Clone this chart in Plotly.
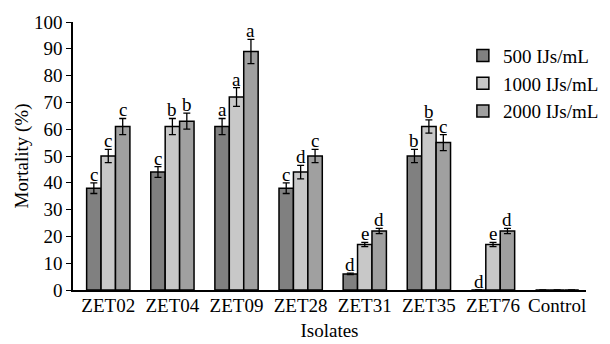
import plotly.graph_objects as go

# Mortality (%) of larvae per isolate at three nematode concentrations
isolates = ["ZET02", "ZET04", "ZET09", "ZET28", "ZET31", "ZET35", "ZET76", "Control"]
series_names = ["500 IJs/mL", "1000 IJs/mL", "2000 IJs/mL"]

mort_500 = [38, 44, 61, 38, 6, 50, 0, 0]
mort_1000 = [50, 61, 72, 44, 17, 61, 17, 0]
mort_2000 = [61, 63, 89, 50, 22, 55, 22, 0]

err_500 = [2, 2, 3, 2, 0.3, 2.5, 0, 0]
err_1000 = [2.5, 3, 3.5, 2.5, 0.8, 2.5, 0.8, 0]
err_2000 = [3, 3, 4.5, 2.5, 1, 3, 1, 0]

letters_500 = ["c", "c", "a", "c", "d", "b", "d", ""]
letters_1000 = ["c", "b", "a", "d", "e", "b", "e", ""]
letters_2000 = ["c", "b", "a", "c", "d", "c", "d", ""]

y_ticks = [0, 10, 20, 30, 40, 50, 60, 70, 80, 90, 100]

colors = ["#808080", "#c8c8c8", "#a0a0a0"]
FONT = "Liberation Serif, Times New Roman, serif"
FS = 19
BAR_W = 0.225

values = [mort_500, mort_1000, mort_2000]
errors = [err_500, err_1000, err_2000]
letters = [letters_500, letters_1000, letters_2000]

xs = list(range(len(isolates)))

fig = go.Figure()
annotations = []
for k in range(3):
    offset = -1.5 * BAR_W + k * BAR_W
    fig.add_trace(go.Bar(
        x=xs,
        y=values[k],
        name=series_names[k],
        width=BAR_W,
        offset=offset,
        marker=dict(color=colors[k], line=dict(color="black", width=1.5)),
        error_y=dict(type="data", array=errors[k], color="black",
                     thickness=1.3, width=3.5, visible=True),
    ))
    for i, lab in enumerate(letters[k]):
        if not lab:
            continue
        annotations.append(dict(
            x=i + offset + BAR_W / 2,
            y=values[k][i] + errors[k][i],
            xref="x", yref="y",
            text=lab, showarrow=False,
            yanchor="bottom", yshift=-4,
            font=dict(family=FONT, size=FS, color="black"),
        ))

fig.update_layout(
    width=610, height=344,
    margin=dict(l=73, r=6, t=22, b=52),
    plot_bgcolor="white", paper_bgcolor="white",
    font=dict(family=FONT, size=FS, color="black"),
    barmode="overlay",
    showlegend=True,
    legend=dict(x=0.76, y=0.945, xanchor="left", yanchor="top",
                font=dict(family=FONT, size=FS, color="black"),
                bgcolor="rgba(0,0,0,0)", itemwidth=30,
                tracegroupgap=0),
    annotations=annotations,
)

fig.update_xaxes(
    range=[-0.55, 7.45],
    tickvals=xs, ticktext=isolates,
    showline=True, linecolor="black", linewidth=1.5,
    ticks="", showgrid=False, zeroline=False,
    ticklabelstandoff=-3,
    title=dict(text="Isolates", font=dict(family=FONT, size=FS), standoff=9),
    tickfont=dict(family=FONT, size=FS, color="black"),
)
fig.update_yaxes(
    range=[0, 100],
    tickvals=y_ticks,
    showline=True, linecolor="black", linewidth=1.5,
    ticks="outside", ticklen=5, tickwidth=1.3, tickcolor="black",
    showgrid=False, zeroline=False,
    title=dict(text="Mortality (%)", font=dict(family=FONT, size=FS), standoff=0),
    tickfont=dict(family=FONT, size=FS, color="black"),
)

fig.write_html("out.html")
